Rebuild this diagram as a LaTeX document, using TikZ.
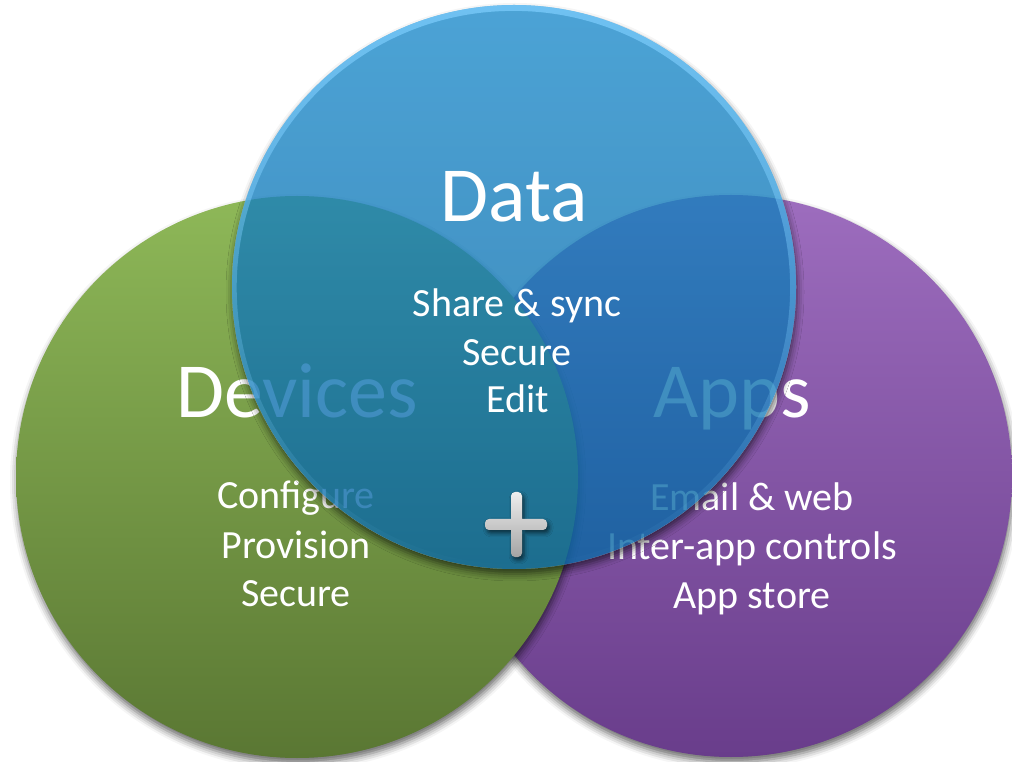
\documentclass[tikz,border=0pt]{standalone}
\usepackage{fontspec}
\setmainfont{Carlito}
\usetikzlibrary{shadows.blur,fadings}
\definecolor{greenTop}{HTML}{8EB858}
\definecolor{greenBot}{HTML}{5A7733}
\definecolor{purpleTop}{HTML}{9D6DBE}
\definecolor{purpleBot}{HTML}{693D8B}
\definecolor{blueTop}{HTML}{1F8CCB}
\definecolor{blueBot}{HTML}{0966A3}
\definecolor{blueRim}{HTML}{7FCFFF}
\definecolor{plusTop}{HTML}{EEEEEE}
\definecolor{plusBot}{HTML}{A4A4A4}
\begin{document}
\begin{tikzpicture}[x=1pt,y=1pt,
  bigtext/.style={text=white, font=\fontsize{78}{94}\selectfont, inner sep=0pt, anchor=base},
  smalltext/.style={text=white, font=\fontsize{40}{48}\selectfont, inner sep=0pt, anchor=base},
  circshadow/.style={blur shadow={shadow xshift=1pt, shadow yshift=-5pt, shadow blur radius=7pt, shadow opacity=60}},
  plusshadow/.style={blur shadow={shadow xshift=2pt, shadow yshift=-3pt, shadow blur radius=4pt, shadow opacity=60}}]
\useasboundingbox (0,0) rectangle (1012,761);
\coordinate (gc) at (297,284);
\coordinate (pc) at (731,285);
\coordinate (bc) at (514,474);
% purple circle
\shade[circshadow, top color=purpleTop, bottom color=purpleBot] (pc) circle[radius=281pt];
% green circle
\shade[circshadow, top color=greenTop, bottom color=greenBot] (gc) circle[radius=281pt];
% texts under the blue circle
\node[bigtext] (devices) at (297,343) {Devices};
\node[bigtext] (apps) at (732,343) {Apps};
\node[smalltext] (configure) at (296,252) {Configure};
\node[smalltext] (provision) at (296,203) {Provision};
\node[smalltext] (dsecure) at (296,155) {Secure};
\node[smalltext] (email) at (752,250) {Email \& web};
\node[smalltext] (interapp) at (752,201) {Inter-app controls};
\node[smalltext] (appstore) at (752,153) {App store};
% shadow of the blue circle, outside it only
\begin{scope}[even odd rule]
  \clip (-20,-20) rectangle (1032,781) (bc) circle[radius=282pt];
  \fill[white, circshadow] (bc) circle[radius=282pt];
\end{scope}
% blue circle
\shade[top color=blueTop, bottom color=blueBot, opacity=0.8] (bc) circle[radius=282pt];
\begin{scope}
  \clip (bc) circle[radius=282pt];
  \draw[blueRim, line width=10pt, opacity=0.7, path fading=south] (bc) circle[radius=282pt];
\end{scope}
% texts on the blue circle
\node[bigtext] (data) at (514,539) {Data};
\node[smalltext] (share) at (517,444) {Share \& sync};
\node[smalltext] (bsecure) at (517,395) {Secure};
\node[smalltext] (edit) at (518,348) {Edit};
% plus sign
\shade[plusshadow, top color=plusTop, bottom color=plusBot, rounded corners=4pt]
  (485,231) rectangle (547,242) (511,204) rectangle (522,269);
\end{tikzpicture}
\end{document}
